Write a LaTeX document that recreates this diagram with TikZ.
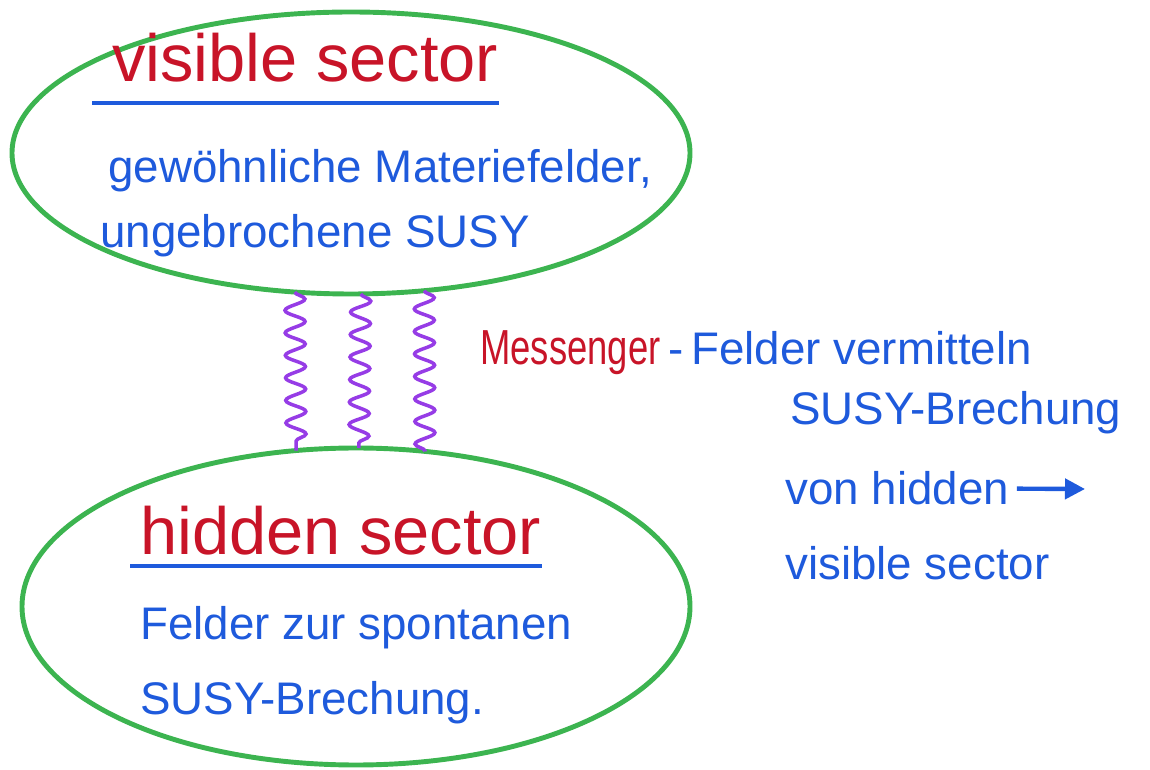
\documentclass[tikz,border=0pt]{standalone}
\usepackage{fontspec}
\setmainfont{Liberation Sans}
\usetikzlibrary{shapes.geometric}
\usetikzlibrary{arrows.meta}
\usetikzlibrary{decorations.pathmorphing}
\definecolor{gruen}{RGB}{60,180,80}
\definecolor{rot}{RGB}{200,20,40}
\definecolor{blau}{RGB}{30,90,220}
\definecolor{lila}{RGB}{150,60,230}
\tikzset{
  sector/.style={draw=gruen, line width=2.8pt, ellipse, inner sep=0pt, outer sep=0pt},
  head/.style={text=rot, font=\fontsize{38}{42}\selectfont, anchor=base west, inner sep=0pt},
  note/.style={text=blau, font=\fontsize{26}{30}\selectfont, anchor=base west, inner sep=0pt},
  wavy/.style={draw=lila, line width=2pt, decorate, decoration={snake, amplitude=2mm, segment length=4.5mm}},
  uline/.style={draw=blau, line width=2.5pt}
}

\begin{document}
\begin{tikzpicture}
    \useasboundingbox (0,0) rectangle (23,15.38);

    % die beiden Sektoren
    \node [sector, minimum width=13.56cm, minimum height=5.64cm] (vis) at (7.02,12.32) {};
    \node [sector, minimum width=13.36cm, minimum height=6.34cm] (hid) at (7.12,3.25) {};

    \node [head] (vt) at (2.24,13.74) {visible sector};
    \draw [uline] ([xshift=-4mm,yshift=-4.2mm]vt.base west) -- ([yshift=-4.2mm]vt.base east);
    \node [note] (v1) at (2.16,11.72) {gewöhnliche Materiefelder,};
    \node [note] (v2) at (2.0,10.42) {ungebrochene SUSY};

    \node [head] (ht) at (2.8,4.28) {hidden sector};
    \draw [uline] ([xshift=-2mm,yshift=-2.2mm]ht.base west) -- ([yshift=-2.2mm]ht.base east);
    \node [note] (h1) at (2.8,2.58) {Felder zur spontanen};
    \node [note] (h2) at (2.8,1.08) {SUSY-Brechung.};

    % Messenger
    \draw [wavy] (vis.248) -- (hid.111);
    \draw [wavy] (vis.274) -- (hid.89);
    \draw [wavy] (vis.298) -- (hid.66);

    \node [head, font=\fontsize{28}{32}\selectfont] (ms) at (9.6,8.08) {\scalebox{0.74}[1]{Messenger}};
    \node [note] (m1) at ([xshift=1.5mm]ms.base east) {-\,Felder vermitteln};
    \node [note] (m2) at (15.8,6.88) {SUSY-Brechung};
    \node [note] (m3) at (15.7,5.28) {von hidden};
    \node [note] (m4) at (15.7,3.78) {visible sector};
    \coordinate (pfeil) at (21.7,5.6);
    \draw [blau, line width=2.5pt, -{Triangle[length=4mm,width=4mm]}] ([xshift=1.5mm]m3.east) -- (pfeil);
\end{tikzpicture}
\end{document}
